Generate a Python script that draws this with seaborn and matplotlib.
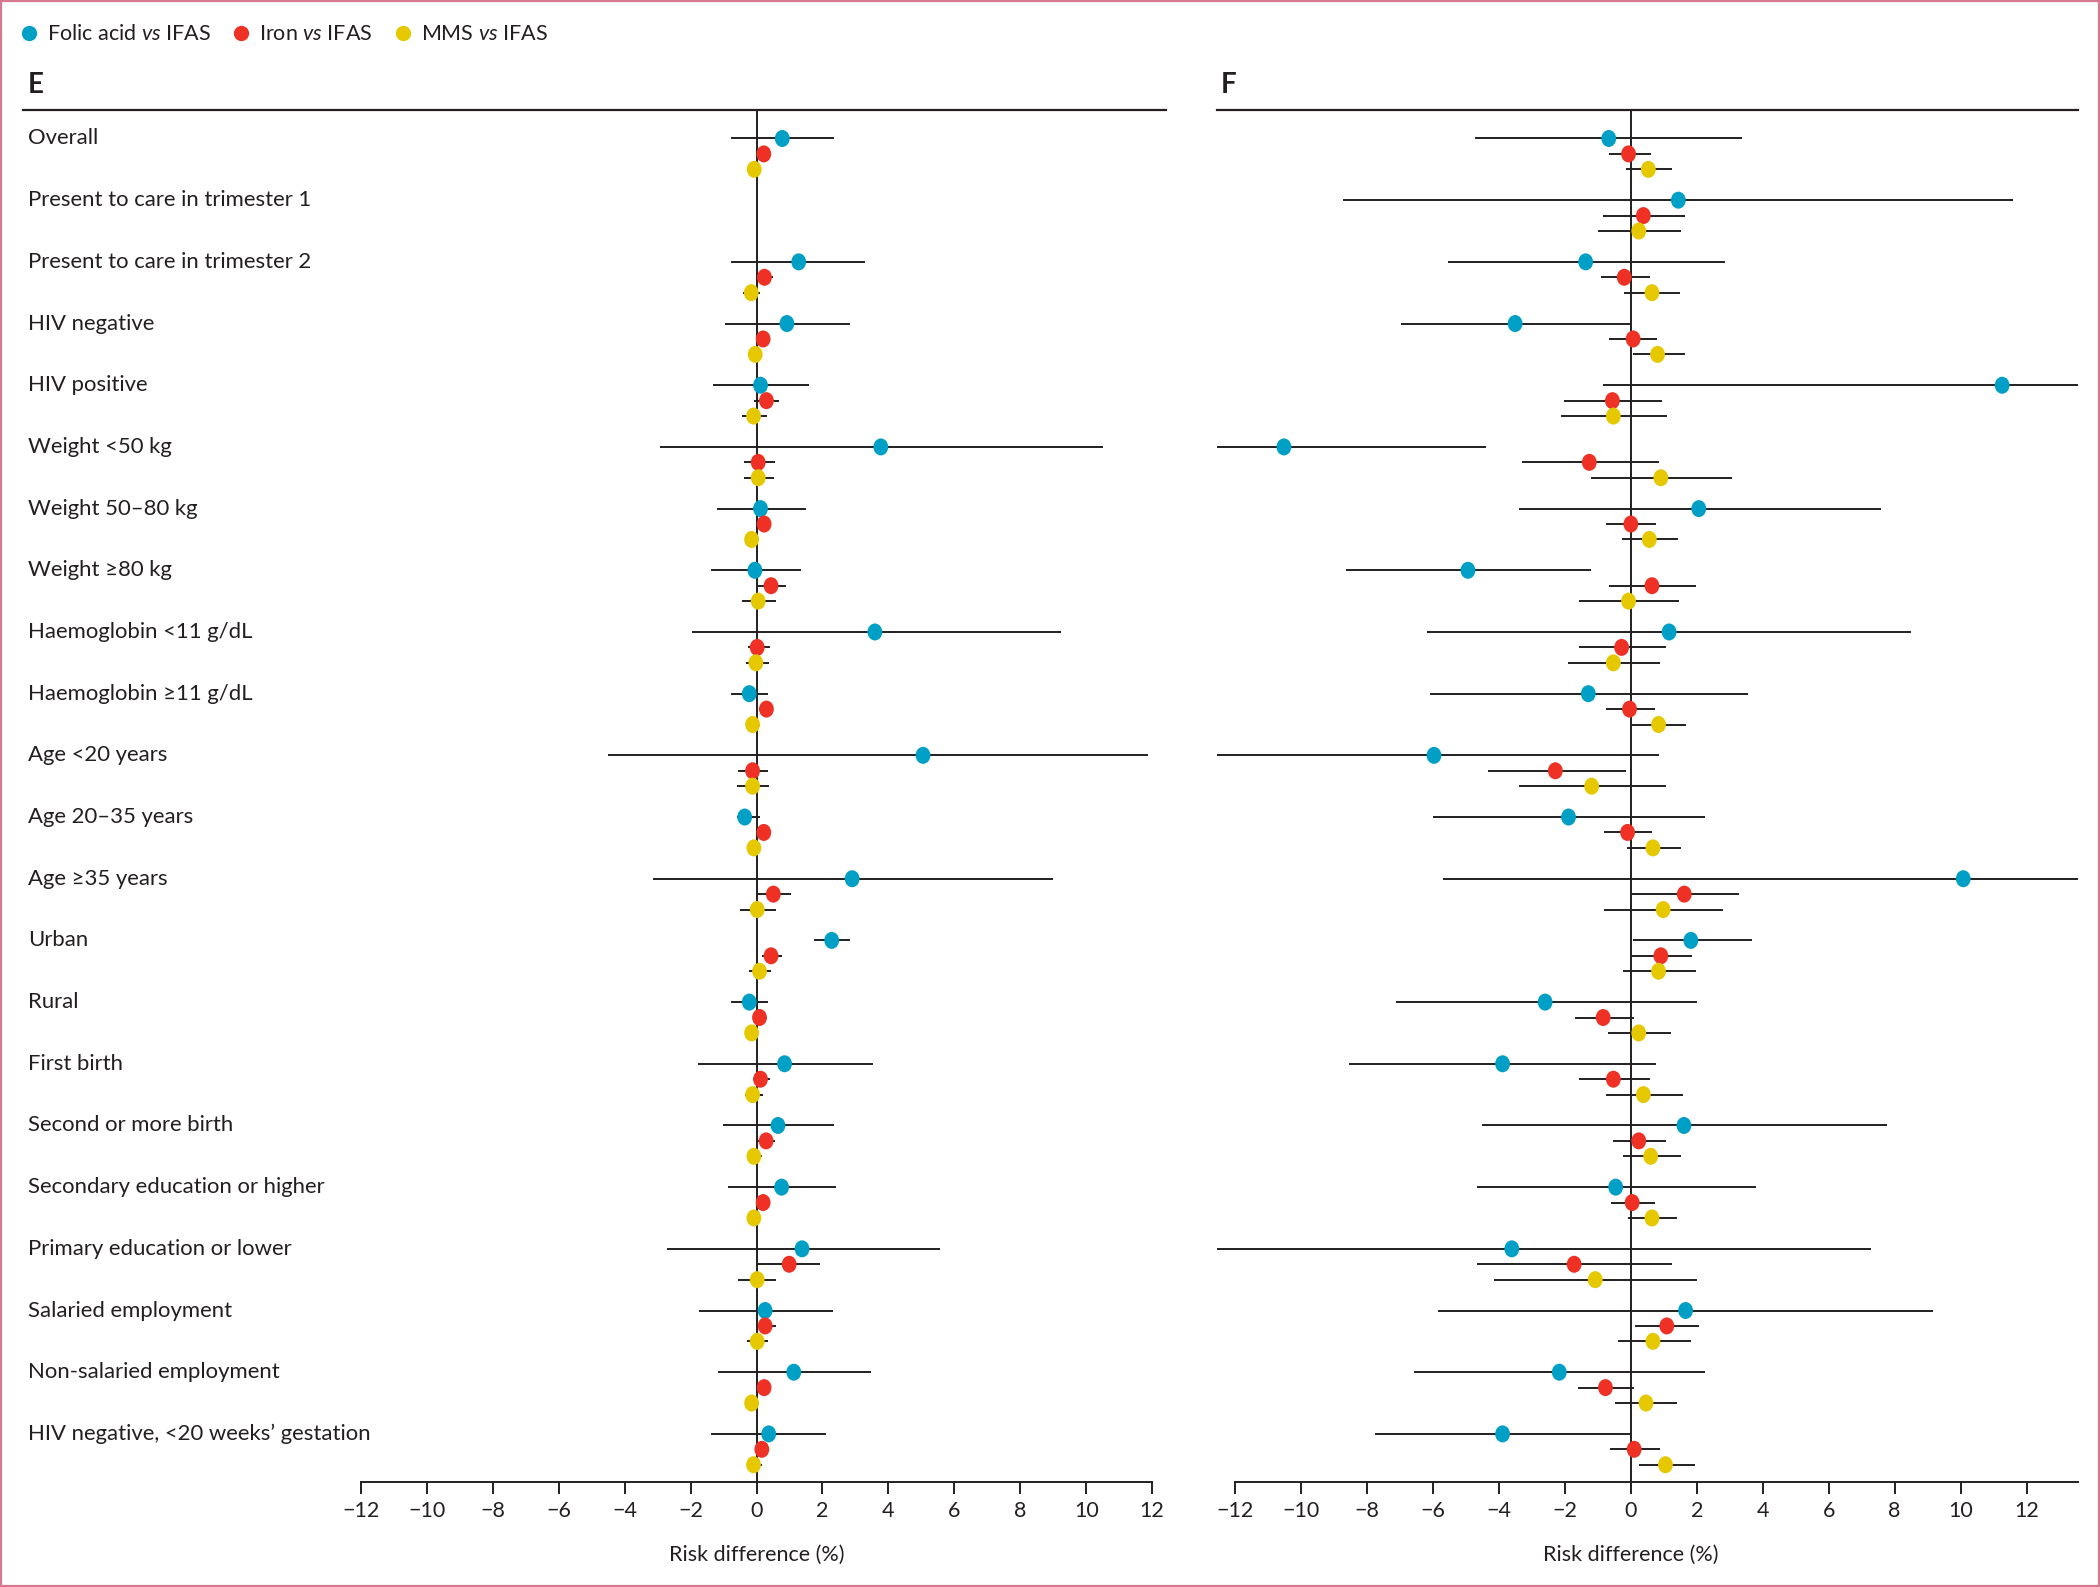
import numpy as np
import pandas as pd
import matplotlib
matplotlib.use("Agg")
import matplotlib.pyplot as plt
import matplotlib.path as mpath
from matplotlib.lines import Line2D
from matplotlib.patches import Rectangle
import seaborn as sns

# Subgroup rows (top to bottom)
subgroups = [
    "Overall", "Present to care in trimester 1", "Present to care in trimester 2",
    "HIV negative", "HIV positive", "Weight <50 kg", "Weight 50–80 kg", "Weight ≥80 kg",
    "Haemoglobin <11 g/dL", "Haemoglobin ≥11 g/dL", "Age <20 years", "Age 20–35 years",
    "Age ≥35 years", "Urban", "Rural", "First birth", "Second or more birth",
    "Secondary education or higher", "Primary education or lower", "Salaried employment",
    "Non-salaried employment", "HIV negative, <20 weeks’ gestation",
]
comparisons = ["Folic acid vs IFAS", "Iron vs IFAS", "MMS vs IFAS"]
legend_labels = [r"Folic acid $\mathit{vs}$ IFAS", r"Iron $\mathit{vs}$ IFAS", r"MMS $\mathit{vs}$ IFAS"]
nan = np.nan

# Panel E: risk difference (%) and 95% CI
e_folic = [0.78, nan, 1.28, 0.92, 0.12, 3.77, 0.12, -0.05, 3.59, -0.22, 5.05, -0.36, 2.90, 2.28, -0.22, 0.85, 0.65, 0.76, 1.38, 0.26, 1.13, 0.37]
e_folic_lo = [-0.76, nan, -0.76, -0.96, -1.31, -2.94, -1.20, -1.38, -1.96, -0.76, -4.51, -0.60, -3.15, 1.74, -0.76, -1.79, -1.03, -0.86, -2.73, -1.76, -1.16, -1.38]
e_folic_hi = [2.36, nan, 3.30, 2.85, 1.60, 10.52, 1.50, 1.36, 9.23, 0.34, 11.87, 0.10, 9.00, 2.85, 0.34, 3.54, 2.36, 2.40, 5.56, 2.33, 3.47, 2.12]
e_iron = [0.22, nan, 0.24, 0.20, 0.30, 0.05, 0.23, 0.44, 0.02, 0.30, -0.12, 0.22, 0.51, 0.44, 0.09, 0.12, 0.29, 0.20, 0.99, 0.26, 0.23, 0.16]
e_iron_lo = [0.05, nan, 0.00, 0.02, -0.09, -0.37, 0.02, 0.04, -0.26, 0.08, -0.55, 0.02, 0.02, 0.16, -0.05, -0.11, 0.05, 0.02, 0.02, -0.03, 0.02, -0.05]
e_iron_hi = [0.40, nan, 0.49, 0.38, 0.69, 0.56, 0.45, 0.90, 0.41, 0.50, 0.34, 0.40, 1.04, 0.77, 0.32, 0.40, 0.55, 0.38, 1.94, 0.59, 0.45, 0.37]
e_mms = [-0.07, nan, -0.16, -0.04, -0.09, 0.05, -0.15, 0.05, -0.02, -0.12, -0.12, -0.08, 0.02, 0.09, -0.15, -0.12, -0.08, -0.08, 0.02, 0.02, -0.15, -0.09]
e_mms_lo = [-0.25, nan, -0.40, -0.26, -0.45, -0.37, -0.33, -0.45, -0.33, -0.30, -0.59, -0.28, -0.51, -0.22, -0.33, -0.36, -0.28, -0.26, -0.55, -0.30, -0.35, -0.30]
e_mms_hi = [0.10, nan, 0.10, 0.14, 0.31, 0.53, 0.06, 0.59, 0.37, 0.10, 0.38, 0.13, 0.59, 0.45, 0.05, 0.20, 0.16, 0.10, 0.59, 0.34, 0.06, 0.16]

# Panel F: risk difference (%) and 95% CI (some CIs run off the panel)
f_folic = [-0.67, 1.44, -1.37, -3.51, 11.26, -10.52, 2.06, -4.94, 1.16, -1.29, -5.97, -1.89, 10.08, 1.82, -2.60, -3.89, 1.61, -0.46, -3.61, 1.66, -2.17, -3.89]
f_folic_lo = [-4.74, -8.73, -5.54, -6.96, -0.85, -13.5, -3.38, -8.63, -6.19, -6.09, -13.5, -6.01, -5.69, 0.07, -7.13, -8.54, -4.51, -4.68, -13.5, -5.86, -6.57, -7.77]
f_folic_hi = [3.38, 11.58, 2.86, 0.00, 14.5, -4.38, 7.59, -1.21, 8.51, 3.56, 0.85, 2.25, 14.5, 3.66, 2.01, 0.75, 7.78, 3.81, 7.28, 9.15, 2.25, 0.00]
f_iron = [-0.07, 0.38, -0.20, 0.07, -0.56, -1.26, 0.00, 0.64, -0.28, -0.04, -2.29, -0.10, 1.62, 0.91, -0.84, -0.53, 0.24, 0.04, -1.72, 1.09, -0.77, 0.10]
f_iron_lo = [-0.67, -0.85, -0.92, -0.65, -2.04, -3.31, -0.75, -0.65, -1.56, -0.74, -4.32, -0.82, 0.02, 0.02, -1.69, -1.56, -0.54, -0.61, -4.68, 0.13, -1.59, -0.64]
f_iron_hi = [0.61, 1.63, 0.58, 0.79, 0.93, 0.86, 0.76, 1.98, 1.07, 0.72, -0.16, 0.65, 3.29, 1.85, 0.09, 0.58, 1.07, 0.72, 1.24, 2.08, 0.09, 0.89]
f_mms = [0.53, 0.24, 0.64, 0.81, -0.53, 0.91, 0.56, -0.07, -0.53, 0.84, -1.19, 0.67, 0.98, 0.84, 0.24, 0.38, 0.60, 0.64, -1.08, 0.67, 0.46, 1.05]
f_mms_lo = [-0.14, -0.99, -0.21, 0.07, -2.11, -1.20, -0.26, -1.56, -1.90, 0.02, -3.38, -0.11, -0.82, -0.25, -0.68, -0.75, -0.25, -0.08, -4.15, -0.39, -0.47, 0.24]
f_mms_hi = [1.24, 1.53, 1.50, 1.63, 1.10, 3.06, 1.42, 1.45, 0.89, 1.67, 1.07, 1.53, 2.79, 1.98, 1.21, 1.59, 1.53, 1.39, 2.02, 1.81, 1.39, 1.94]

# Style
sns.set_style("white")
plt.rcParams["font.family"] = ["Lato", "DejaVu Sans"]
plt.rcParams["mathtext.fontset"] = "custom"
plt.rcParams["mathtext.rm"] = "Lato"
plt.rcParams["mathtext.it"] = "Lato:italic"
ink = "#231f20"
palette = {"Folic acid vs IFAS": "#00a0c6", "Iron vs IFAS": "#ee3124", "MMS vs IFAS": "#e6c800"}
offsets = [0.0, 0.25, 0.5]

# slightly tall oval dot like the original
circ = mpath.Path.unit_circle()
oval = mpath.Path(circ.vertices * np.array([0.87, 1.0]), circ.codes)


def build_frame(est, lo, hi):
    rows = []
    for k, comp in enumerate(comparisons):
        for i, sg in enumerate(subgroups):
            rows.append({"subgroup": sg, "comparison": comp, "est": est[k][i],
                         "lo": lo[k][i], "hi": hi[k][i], "ypos": i + offsets[k]})
    return pd.DataFrame(rows).dropna()


def draw_panel(ax, df, xlim, right_bound, letter, show_labels):
    ax.set_xlim(xlim)
    ax.set_ylim(21.78, -0.47)

    ax.hlines(df["ypos"], df["lo"], df["hi"], color=ink, lw=1.4, zorder=2)
    sns.scatterplot(data=df, x="est", y="ypos", hue="comparison", palette=palette,
                    marker=oval, s=150, linewidth=0, legend=False, ax=ax, zorder=3)
    ax.axvline(0, color=ink, lw=1.4, zorder=1)

    for s in ["left", "right"]:
        ax.spines[s].set_visible(False)
    ax.spines["top"].set_color(ink)
    ax.spines["top"].set_linewidth(1.6)
    ax.spines["bottom"].set_color(ink)
    ax.spines["bottom"].set_linewidth(1.4)
    ax.spines["bottom"].set_bounds(-12, right_bound)

    ax.set_yticks([])
    ax.set_ylabel("")
    ax.set_xticks(range(-12, 13, 2))
    ax.tick_params(axis="x", direction="out", length=8.5, width=1.4, color=ink,
                   labelsize=15.5, labelcolor=ink, pad=5, top=False, bottom=True)

    ax.set_xlabel("Risk difference (%)", fontsize=15.5, color=ink)
    x0 = (0 - xlim[0]) / (xlim[1] - xlim[0])
    ax.xaxis.set_label_coords(x0, -0.053)
    ax.xaxis.label.set_verticalalignment("center")

    # panel letter above the top rule
    ax.text(0.004, 1.0175, letter, transform=ax.transAxes, fontsize=20,
            fontweight="bold", color=ink, va="center", ha="left")

    if show_labels:
        for i, sg in enumerate(subgroups):
            ax.text(0.0044, i, sg, transform=ax.get_yaxis_transform(),
                    fontsize=15.9, color=ink, va="center", ha="left")


fig = plt.figure(figsize=(21, 15.87), dpi=100)
W, H = 2100, 1587
top_px, bot_px = 109.5, 1482
ax_e = fig.add_axes([23 / W, 1 - bot_px / H, (1166 - 23) / W, (bot_px - top_px) / H])
ax_f = fig.add_axes([1217 / W, 1 - bot_px / H, (2078 - 1217) / W, (bot_px - top_px) / H])

df_e = build_frame([e_folic, e_iron, e_mms], [e_folic_lo, e_iron_lo, e_mms_lo], [e_folic_hi, e_iron_hi, e_mms_hi])
df_f = build_frame([f_folic, f_iron, f_mms], [f_folic_lo, f_iron_lo, f_mms_lo], [f_folic_hi, f_iron_hi, f_mms_hi])

draw_panel(ax_e, df_e, (-22.25, 12.42), 12, "E", True)
draw_panel(ax_f, df_f, (-12.55, 13.56), 13.56, "F", False)

# Legend across the top
handles = [Line2D([], [], marker="o", ls="", markersize=11, markeredgewidth=0,
                  color=palette[c]) for c in comparisons]
fig.legend(handles, legend_labels, loc="center left", bbox_to_anchor=(0.0095, 1 - 34.5 / H),
           ncol=3, frameon=False, fontsize=15.5, handlelength=0.8, handletextpad=0.45,
           columnspacing=1.0, borderpad=0, borderaxespad=0, labelcolor=ink)

# Pink frame around the figure
fig.patches.append(Rectangle((0.0005, 0.0008), 0.999, 0.9985, transform=fig.transFigure,
                             fill=False, edgecolor="#d6788f", linewidth=1.6))

fig.savefig("out.png", dpi=100)
